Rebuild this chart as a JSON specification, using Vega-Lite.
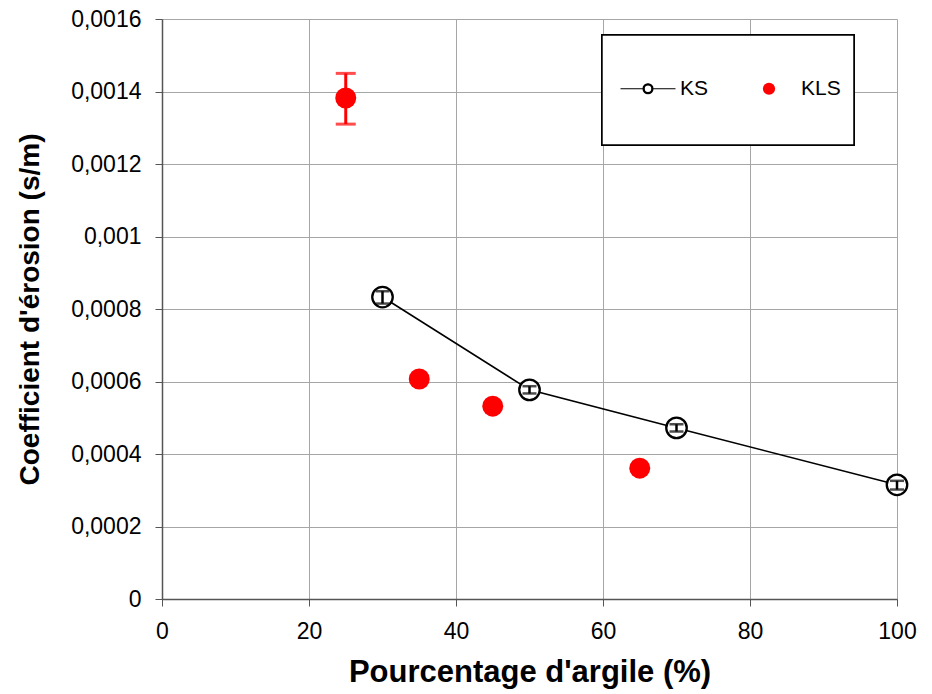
{
  "$schema": "https://vega.github.io/schema/vega-lite/v6.json",
  "width": 735,
  "height": 580,
  "autosize": "none",
  "padding": {"left": 162, "top": 19, "right": 35, "bottom": 95},
  "background": "white",
  "config": {
    "view": {"stroke": null},
    "font": "Liberation Sans",
    "axis": {
      "gridColor": "#a6a6a6",
      "gridWidth": 1,
      "gridOpacity": 1,
      "domainColor": "#555555",
      "domainWidth": 1.5,
      "tickColor": "#555555",
      "tickSize": 7,
      "labelColor": "black",
      "titleColor": "black",
      "labelFont": "Liberation Sans",
      "titleFont": "Liberation Sans",
      "labelFontSize": 23,
      "titleFontSize": 28,
      "titleFontWeight": "bold"
    },
    "legend": {
      "orient": "none",
      "legendX": 475.5,
      "legendY": 59,
      "direction": "horizontal",
      "labelFontSize": 21,
      "labelFont": "Liberation Sans",
      "labelColor": "black",
      "labelOffset": 21.5,
      "columnPadding": 50,
      "padding": 0
    }
  },
  "datasets": {
    "pts": [
      {"serie": "KS", "argile": 30, "k": 0.000833, "lo": 0.000815, "hi": 0.000849},
      {"serie": "KS", "argile": 50, "k": 0.000577, "lo": 0.000567, "hi": 0.000587},
      {"serie": "KS", "argile": 70, "k": 0.000472, "lo": 0.000462, "hi": 0.000482},
      {"serie": "KS", "argile": 100, "k": 0.000315, "lo": 0.000302, "hi": 0.000326},
      {"serie": "KLS", "argile": 25, "k": 0.001382, "lo": 0.00131, "hi": 0.00145},
      {"serie": "KLS", "argile": 35, "k": 0.000607, "lo": 0.000607, "hi": 0.000607},
      {"serie": "KLS", "argile": 45, "k": 0.000532, "lo": 0.000532, "hi": 0.000532},
      {"serie": "KLS", "argile": 65, "k": 0.000361, "lo": 0.000361, "hi": 0.000361}
    ]
  },
  "data": {"name": "pts"},
  "encoding": {
    "x": {
      "field": "argile",
      "type": "quantitative",
      "scale": {"domain": [0, 100], "nice": false},
      "axis": {
        "title": "Pourcentage d'argile (%)",
        "values": [0, 20, 40, 60, 80, 100],
        "labelFontSize": 23,
        "titleFontSize": 31,
        "labelPadding": 14,
        "titlePadding": 14,
        "labelFlush": false
      }
    },
    "y": {
      "field": "k",
      "type": "quantitative",
      "scale": {"domain": [0, 0.0016], "nice": false},
      "axis": {
        "title": "Coefficient d'érosion (s/m)",
        "values": [0, 0.0002, 0.0004, 0.0006, 0.0008, 0.001, 0.0012, 0.0014, 0.0016],
        "labelExpr": "replace(format(datum.value, '~g'), '.', ',')",
        "labelPadding": 14,
        "titlePadding": 26,
        "labelFlush": false
      }
    }
  },
  "layer": [
    {
      "mark": {"type": "rect", "fill": "white", "stroke": "black", "strokeWidth": 1.5},
      "encoding": {
        "x": {"datum": 59.86, "type": "quantitative"},
        "x2": {"datum": 94.15},
        "y": {"datum": 0.001556, "type": "quantitative"},
        "y2": {"datum": 0.0012524}
      }
    },
    {
      "transform": [{"filter": "datum.serie === 'KS'"}],
      "mark": {"type": "line", "strokeWidth": 1.6},
      "encoding": {
        "color": {
          "field": "serie",
          "type": "nominal",
          "scale": {"domain": ["KS", "KLS"], "range": ["black", "red"]},
          "legend": {
            "title": null,
            "encode": {
              "symbols": {
                "update": {
                  "shape": {"signal": "datum.value === 'KS' ? 'M-1,0H-0.18M0.18,0H1M0.18,0A0.18,0.18 0 1,1 -0.18,0A0.18,0.18 0 1,1 0.18,0ZM0.14,0A0.14,0.14 0 1,0 -0.14,0A0.14,0.14 0 1,0 0.14,0Z' : 'circle'"},
                  "size": {"signal": "datum.value === 'KS' ? 3025 : 150"},
                  "fill": {"signal": "datum.value === 'KS' ? 'black' : 'red'"},
                  "stroke": {"signal": "datum.value === 'KS' ? 'black' : 'red'"},
                  "strokeWidth": {"signal": "datum.value === 'KS' ? 1.2 : 0"},
                  "opacity": {"value": 1},
                  "fillOpacity": {"value": 1}
                }
              }
            }
          }
        }
      }
    },
    {
      "transform": [{"filter": "datum.serie === 'KS'"}],
      "mark": {"type": "point", "shape": "circle", "filled": false, "fill": "white", "fillOpacity": 1, "stroke": "black", "strokeWidth": 2.3, "size": 420, "opacity": 1}
    },
    {
      "transform": [{"filter": "datum.serie === 'KS'"}],
      "mark": {"type": "errorbar", "color": "black", "thickness": 2.5, "ticks": {"size": 14, "color": "black", "thickness": 2.5}},
      "encoding": {
        "y": {"field": "lo", "type": "quantitative"},
        "y2": {"field": "hi"}
      }
    },
    {
      "transform": [{"filter": "datum.serie === 'KLS' && datum.hi > datum.lo"}],
      "mark": {"type": "errorbar", "color": "red", "thickness": 3, "ticks": {"size": 20, "color": "red", "thickness": 3}},
      "encoding": {
        "y": {"field": "lo", "type": "quantitative"},
        "y2": {"field": "hi"}
      }
    },
    {
      "transform": [{"filter": "datum.serie === 'KLS'"}],
      "mark": {"type": "point", "shape": "circle", "filled": true, "size": 440, "opacity": 1},
      "encoding": {
        "color": {
          "field": "serie",
          "type": "nominal",
          "legend": {
            "title": null,
            "encode": {
              "symbols": {
                "update": {
                  "shape": {"signal": "datum.value === 'KS' ? 'M-1,0H-0.18M0.18,0H1M0.18,0A0.18,0.18 0 1,1 -0.18,0A0.18,0.18 0 1,1 0.18,0ZM0.14,0A0.14,0.14 0 1,0 -0.14,0A0.14,0.14 0 1,0 0.14,0Z' : 'circle'"},
                  "size": {"signal": "datum.value === 'KS' ? 3025 : 150"},
                  "fill": {"signal": "datum.value === 'KS' ? 'black' : 'red'"},
                  "stroke": {"signal": "datum.value === 'KS' ? 'black' : 'red'"},
                  "strokeWidth": {"signal": "datum.value === 'KS' ? 1.2 : 0"},
                  "opacity": {"value": 1},
                  "fillOpacity": {"value": 1}
                }
              }
            }
          }
        }
      }
    }
  ]
}
